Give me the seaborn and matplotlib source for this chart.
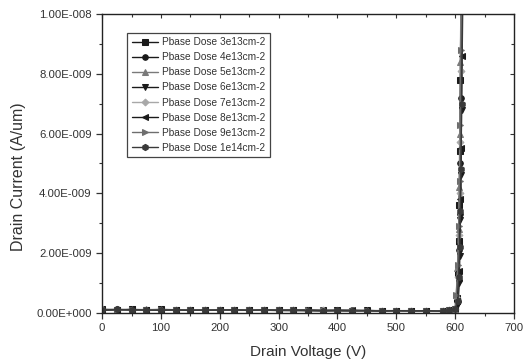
import matplotlib
matplotlib.use("Agg")
import matplotlib.pyplot as plt
import seaborn as sns
import pandas as pd
from matplotlib.ticker import MultipleLocator, FuncFormatter

# ---- data ----
labels = ["Pbase Dose 3e13cm-2", "Pbase Dose 4e13cm-2", "Pbase Dose 5e13cm-2",
          "Pbase Dose 6e13cm-2", "Pbase Dose 7e13cm-2", "Pbase Dose 8e13cm-2",
          "Pbase Dose 9e13cm-2", "Pbase Dose 1e14cm-2"]

# common leakage-region voltages (V)
v_leak = [0, 25, 50, 75, 100, 125, 150, 175, 200, 225, 250, 275, 300, 325, 350,
          375, 400, 425, 450, 475, 500, 525, 550, 580, 590, 600]

# leakage currents (A/um), per series
i_leak = [
    [0.12e-9, 0.11e-9, 0.12e-9, 0.11e-9, 0.12e-9, 0.11e-9, 0.10e-9, 0.11e-9, 0.10e-9, 0.11e-9, 0.10e-9, 0.10e-9, 0.10e-9, 0.09e-9, 0.10e-9, 0.09e-9, 0.09e-9, 0.08e-9, 0.08e-9, 0.08e-9, 0.07e-9, 0.07e-9, 0.08e-9, 0.07e-9, 0.09e-9, 0.12e-9],
    [0.10e-9, 0.12e-9, 0.11e-9, 0.10e-9, 0.11e-9, 0.10e-9, 0.11e-9, 0.10e-9, 0.09e-9, 0.10e-9, 0.11e-9, 0.09e-9, 0.09e-9, 0.10e-9, 0.09e-9, 0.08e-9, 0.09e-9, 0.09e-9, 0.07e-9, 0.08e-9, 0.08e-9, 0.07e-9, 0.07e-9, 0.08e-9, 0.10e-9, 0.14e-9],
    [0.09e-9, 0.10e-9, 0.10e-9, 0.12e-9, 0.10e-9, 0.09e-9, 0.10e-9, 0.09e-9, 0.10e-9, 0.09e-9, 0.09e-9, 0.10e-9, 0.08e-9, 0.09e-9, 0.08e-9, 0.09e-9, 0.08e-9, 0.07e-9, 0.08e-9, 0.07e-9, 0.08e-9, 0.08e-9, 0.06e-9, 0.07e-9, 0.09e-9, 0.13e-9],
    [0.11e-9, 0.09e-9, 0.11e-9, 0.10e-9, 0.09e-9, 0.11e-9, 0.09e-9, 0.10e-9, 0.11e-9, 0.10e-9, 0.09e-9, 0.09e-9, 0.10e-9, 0.09e-9, 0.09e-9, 0.08e-9, 0.08e-9, 0.08e-9, 0.09e-9, 0.07e-9, 0.07e-9, 0.08e-9, 0.07e-9, 0.06e-9, 0.08e-9, 0.15e-9],
    [0.13e-9, 0.11e-9, 0.10e-9, 0.11e-9, 0.10e-9, 0.10e-9, 0.11e-9, 0.09e-9, 0.10e-9, 0.09e-9, 0.10e-9, 0.09e-9, 0.09e-9, 0.09e-9, 0.08e-9, 0.09e-9, 0.08e-9, 0.08e-9, 0.07e-9, 0.08e-9, 0.07e-9, 0.06e-9, 0.07e-9, 0.07e-9, 0.09e-9, 0.12e-9],
    [0.10e-9, 0.10e-9, 0.12e-9, 0.09e-9, 0.11e-9, 0.10e-9, 0.10e-9, 0.10e-9, 0.09e-9, 0.10e-9, 0.09e-9, 0.10e-9, 0.09e-9, 0.08e-9, 0.09e-9, 0.08e-9, 0.08e-9, 0.09e-9, 0.08e-9, 0.07e-9, 0.07e-9, 0.07e-9, 0.06e-9, 0.08e-9, 0.10e-9, 0.16e-9],
    [0.12e-9, 0.10e-9, 0.09e-9, 0.10e-9, 0.10e-9, 0.09e-9, 0.10e-9, 0.11e-9, 0.10e-9, 0.09e-9, 0.10e-9, 0.09e-9, 0.10e-9, 0.09e-9, 0.09e-9, 0.09e-9, 0.07e-9, 0.08e-9, 0.08e-9, 0.08e-9, 0.06e-9, 0.07e-9, 0.07e-9, 0.07e-9, 0.09e-9, 0.13e-9],
    [0.11e-9, 0.12e-9, 0.10e-9, 0.10e-9, 0.09e-9, 0.10e-9, 0.09e-9, 0.10e-9, 0.10e-9, 0.10e-9, 0.09e-9, 0.10e-9, 0.09e-9, 0.10e-9, 0.08e-9, 0.08e-9, 0.09e-9, 0.07e-9, 0.08e-9, 0.07e-9, 0.08e-9, 0.07e-9, 0.08e-9, 0.06e-9, 0.10e-9, 0.14e-9],
]

# breakdown region (V) and currents (A/um), per series
v_bd = [
    [603, 605, 606, 607, 608, 609, 610],
    [604, 606, 607, 608, 609, 610, 611],
    [602, 604, 606, 607, 608, 609, 610],
    [605, 607, 608, 609, 610, 611, 612],
    [603, 605, 607, 608, 609, 610, 611],
    [604, 606, 607, 609, 610, 611, 612],
    [602, 605, 606, 608, 609, 610, 611],
    [605, 606, 608, 609, 610, 611, 613],
]
i_bd = [
    [0.5e-9, 1.3e-9, 2.4e-9, 3.6e-9, 5.4e-9, 7.8e-9, 10.4e-9],
    [0.4e-9, 1.1e-9, 2.1e-9, 3.3e-9, 5.0e-9, 7.2e-9, 10.2e-9],
    [0.6e-9, 1.5e-9, 2.8e-9, 4.2e-9, 6.0e-9, 8.4e-9, 10.6e-9],
    [0.3e-9, 1.0e-9, 1.9e-9, 3.1e-9, 4.6e-9, 6.8e-9, 10.1e-9],
    [0.5e-9, 1.2e-9, 2.6e-9, 4.0e-9, 5.7e-9, 8.1e-9, 10.5e-9],
    [0.4e-9, 1.4e-9, 2.3e-9, 3.8e-9, 5.5e-9, 8.6e-9, 10.3e-9],
    [0.6e-9, 1.6e-9, 2.9e-9, 4.4e-9, 6.3e-9, 8.8e-9, 10.7e-9],
    [0.4e-9, 1.2e-9, 2.2e-9, 3.4e-9, 4.8e-9, 7.0e-9, 10.2e-9],
]

markers = ["s", "o", "^", "v", "D", "<", ">", "h"]
colors = ["#1a1a1a", "#1a1a1a", "#7a7a7a", "#1a1a1a", "#a8a8a8", "#1a1a1a", "#6e6e6e", "#3a3a3a"]
msizes = [4, 4, 5, 5, 3.5, 5, 5, 4.5]

# ---- plot ----
sns.set_style("ticks")
plt.rcParams["font.family"] = ["Liberation Sans", "DejaVu Sans"]

fig = plt.figure(figsize=(5.32, 3.64), dpi=100)
ax = fig.add_axes([0.192, 0.140, 0.774, 0.822])

for k, lab in enumerate(labels):
    df = pd.DataFrame({"V": v_leak + v_bd[k], "I": i_leak[k] + i_bd[k]})
    sns.lineplot(data=df, x="V", y="I", ax=ax, sort=False, estimator=None,
                 color=colors[k], marker=markers[k], markersize=msizes[k],
                 markeredgecolor=colors[k], linewidth=1.0, label=lab)

ax.set_xlim(0, 700)
ax.set_ylim(0, 1.0e-8)
ax.xaxis.set_major_locator(MultipleLocator(100))
ax.xaxis.set_minor_locator(MultipleLocator(50))
ax.yaxis.set_major_locator(MultipleLocator(2e-9))
ax.yaxis.set_minor_locator(MultipleLocator(1e-9))


def sci(v, pos):
    if abs(v) < 1e-20:
        return "0.00E+000"
    s = "%.2E" % v
    mant, exp = s.split("E")
    sign = exp[0]
    return "%sE%s%03d" % (mant, sign, abs(int(exp)))


ax.yaxis.set_major_formatter(FuncFormatter(sci))
ax.yaxis.get_offset_text().set_visible(False)

txtc = "#333333"
ax.tick_params(axis="both", which="major", direction="out", length=4, width=0.9,
               labelsize=8.2, colors=txtc, labelcolor=txtc)
ax.tick_params(axis="both", which="minor", direction="out", length=2.5, width=0.8, colors=txtc)
for sp in ax.spines.values():
    sp.set_visible(True)
    sp.set_linewidth(1.0)
    sp.set_color("#222222")

# inward ticks on top and right
secx = ax.secondary_xaxis("top")
secx.xaxis.set_major_locator(MultipleLocator(100))
secx.xaxis.set_minor_locator(MultipleLocator(50))
secx.tick_params(which="both", direction="in", labeltop=False, length=3, width=0.8, colors=txtc)
secx.tick_params(which="minor", length=2)
secx.spines["top"].set_visible(False)
secy = ax.secondary_yaxis("right")
secy.yaxis.set_major_locator(MultipleLocator(2e-9))
secy.yaxis.set_minor_locator(MultipleLocator(1e-9))
secy.tick_params(which="both", direction="in", labelright=False, length=3, width=0.8, colors=txtc)
secy.tick_params(which="minor", length=2)
secy.spines["right"].set_visible(False)

ax.set_xlabel("Drain Voltage (V)", fontsize=11, color=txtc, labelpad=8)
ax.set_ylabel("Drain Current (A/um)", fontsize=11.5, color=txtc)
ax.yaxis.set_label_coords(-0.185, 0.455)

leg = ax.legend(loc="upper left", bbox_to_anchor=(0.061, 0.937), borderaxespad=0,
                fontsize=7.3, frameon=True, fancybox=False, edgecolor="#444444",
                framealpha=1, handlelength=2.6, labelspacing=0.5, borderpad=0.45,
                handletextpad=0.4)
leg.get_frame().set_linewidth(0.9)
for t in leg.get_texts():
    t.set_color(txtc)

fig.savefig("out.png", dpi=100)
